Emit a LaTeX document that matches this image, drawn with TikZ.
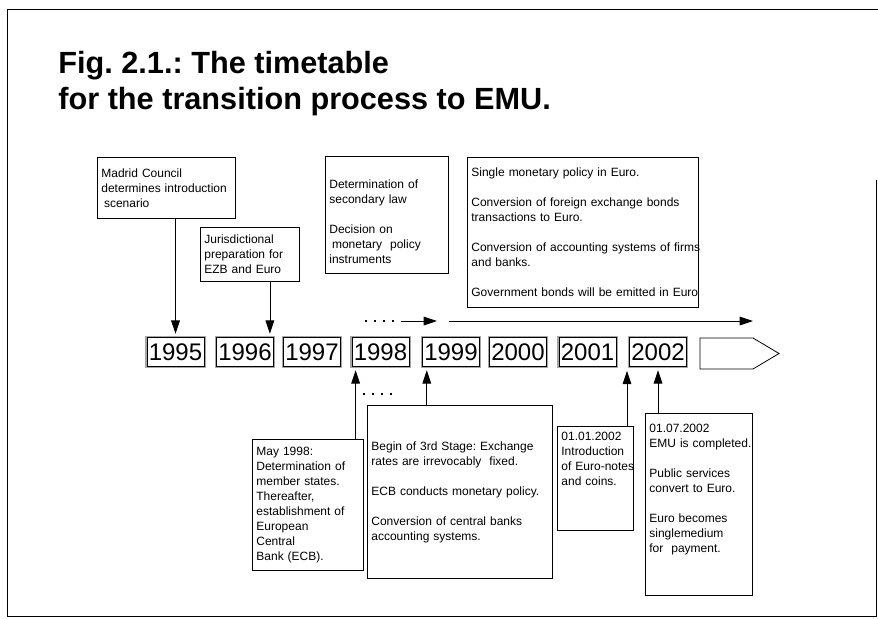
\documentclass[tikz,border=0pt]{standalone}
\usepackage{fontspec}
\setmainfont{Liberation Sans}
\usetikzlibrary{arrows.meta}
\frenchspacing

\begin{document}
\begin{tikzpicture}[x=0.75pt, y=-0.75pt, line width=0.6pt,
  note/.style={draw, anchor=north west, align=left, inner sep=3pt, font=\fontsize{9}{11.25}\selectfont},
  year/.style={draw, fill=white, inner sep=0pt, minimum width=42.75pt, minimum height=21.75pt, font=\fontsize{18}{18}\selectfont, preaction={draw=black!35, line width=2.5pt}},
  arr/.style={-{Triangle[length=10pt, width=6.5pt]}},
  tip/.style={arr, shorten >=2.5pt},
  dots/.style={line width=1.6pt, dash pattern=on 1.6pt off 5.2pt}]
\useasboundingbox (0,0) rectangle (878,618);
\draw (878,9) -- (7,9) -- (7,616) -- (876,616) -- (876,180);

\node[anchor=north west, inner sep=0pt, align=left, font=\fontsize{23}{27}\selectfont\bfseries] (title) at (58,51) {Fig. 2.1.: The timetable\\for the transition process to EMU.};

\foreach \yr/\x in {1995/175.5, 1996/245, 1997/312, 1998/380.5, 1999/451, 2000/518, 2001/587.5, 2002/658}
  \node[year] (y\yr) at (\x,352) {\yr};
\draw (700,338) -- (753,338) -- (779,353.5) -- (753,369) -- (700,369) -- cycle;

\node[note, text width=97.5pt, minimum height=45.75pt] (madrid) at (97,157) {Madrid Council\\determines introduction\\\hspace*{2pt}scenario};
\node[note, text width=68.25pt, minimum height=40.5pt] (juris) at (200,227) {Jurisdictional\\preparation for\\EZB and Euro};
\node[note, text width=86.25pt, text height=21pt, text depth=60.75pt] (law) at (325,156) {Determination of\\secondary law\\[11.25pt]Decision on\\\hspace*{2pt}monetary\ \ policy\\instruments};
\node[note, text width=167.25pt, minimum height=112.5pt] (euro) at (467,157) {Single monetary policy in Euro.\\[11.25pt]Conversion of foreign exchange bonds\\transactions to Euro.\\[11.25pt]\mbox{Conversion of accounting systems of firms}\\and banks.\\[11.25pt]\mbox{Government bonds will be emitted in Euro}};

\node[note, text width=77.25pt, minimum height=98.25pt] (may) at (252,439) {May 1998:\\Determination of\\member states.\\Thereafter,\\establishment of\\European\\Central\\Bank (ECB).};
\node[note, text width=132.75pt, minimum height=129.75pt] (stage) at (367,405) {Begin of 3rd Stage: Exchange\\rates are irrevocably\ \ fixed.\\[11.25pt]ECB conducts monetary policy.\\[11.25pt]Conversion of central banks\\accounting systems.};
\node[note, text width=51pt, text height=7.5pt, text depth=64.5pt] (notes) at (557,426) {01.01.2002\\Introduction\\\mbox{of Euro-notes}\\and coins.};
\node[note, text width=74.25pt, text height=11.25pt, text depth=119.25pt] (emu) at (645,413) {01.07.2002\\\mbox{EMU is completed.}\\[11.25pt]Public services\\convert to Euro.\\[11.25pt]Euro becomes\\singlemedium\\for\ \ payment.};

\coordinate (t96) at ([xshift=-3pt]y1996.north east);
\draw[tip] (madrid.south -| y1995.north) -- (y1995.north);
\draw[tip] (juris.south -| t96) -- (t96);

\coordinate (a1) at (401,321);
\coordinate (a2) at (437,321);
\coordinate (a3) at (449,321);
\coordinate (a4) at (753,321);
\draw[dots] (365,321) -- (395,321);
\draw[arr] (a1) -- (a2);
\draw[arr] (a3) -- (a4);

\coordinate (b98) at ([xshift=3pt]y1998.south west);
\coordinate (b99) at ([xshift=3.5pt]y1999.south west);
\coordinate (b01) at (627,367.5);
\draw[tip] (may.north -| b98) -- (b98);
\draw[dots] (363,394) -- (393,394);
\draw[tip] (stage.north -| b99) -- (b99);
\draw[tip] (notes.north -| b01) -- (b01);
\draw[tip] (emu.north -| y2002.south) -- (y2002.south);
\end{tikzpicture}
\end{document}
